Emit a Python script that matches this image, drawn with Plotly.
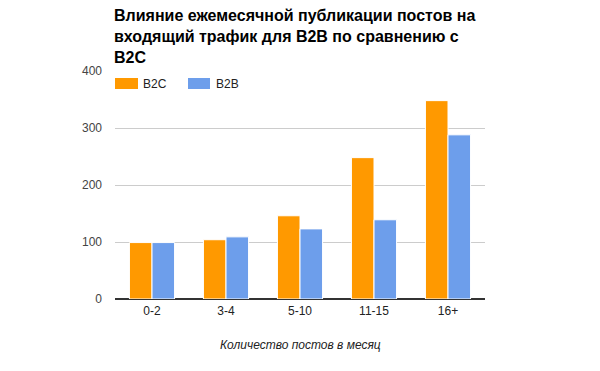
import plotly.graph_objects as go

categories = ["0-2", "3-4", "5-10", "11-15", "16+"]
b2c = [99, 104, 146, 248, 348]
b2b = [99, 109, 123, 139, 288]
series_names = ["B2C", "B2B"]
colors = ["#ff9900", "#6d9eeb"]

# page body has an 8px default margin, so figure coords = screen coords - 8
O = 8
W, H = 600, 371
L, T = 115 - O, 71 - O
pw, ph = 370, 228
R = W - L - pw
B = H - T - ph

def px(x):
    return (x - O - L) / pw

def py(y):
    return (T + ph - (y - O)) / ph

fig = go.Figure()
for name, vals, c in zip(series_names, [b2c, b2b], colors):
    fig.add_trace(go.Bar(name=name, x=categories, y=vals,
                         marker=dict(color=c, line=dict(color="white", width=1))))

font_fam = "Liberation Sans, Arial, sans-serif"

annotations = [
    dict(text="<b>Влияние ежемесячной публикации постов на<br>входящий трафик для B2B по сравнению с<br>B2C</b>",
         xref="paper", yref="paper", x=px(112), y=py(5), xanchor="left", yanchor="top", align="left",
         showarrow=False, font=dict(size=16, color="#000000", family=font_fam)),
    dict(text="<i>Количество постов в месяц</i>", xref="paper", yref="paper", x=0.5, y=py(345),
         xanchor="center", yanchor="middle", showarrow=False, font=dict(size=12, color="#222222", family=font_fam)),
]
shapes = []
leg = [(115, 138, 141), (188, 210, 214)]
for (x0, x1, tx), name, c in zip(leg, series_names, colors):
    shapes.append(dict(type="rect", xref="paper", yref="paper", x0=px(x0), x1=px(x1), y0=py(89), y1=py(78),
                       fillcolor=c, line=dict(width=0)))
    annotations.append(dict(text=name, xref="paper", yref="paper", x=px(tx), y=py(83.5), xanchor="left",
                            yanchor="middle", showarrow=False, font=dict(size=12, color="#222222", family=font_fam)))

fig.update_layout(
    width=W, height=H,
    margin=dict(l=L, r=R, t=T, b=B, autoexpand=False),
    paper_bgcolor="white", plot_bgcolor="white",
    font=dict(family=font_fam, size=12, color="#444444"),
    barmode="group", bargap=0.39, bargroupgap=0,
    showlegend=False,
    annotations=annotations, shapes=shapes,
    xaxis=dict(automargin=False, tickfont=dict(size=12, color="#222222"), showgrid=False, ticks="",
               showline=False, ticklabelstandoff=3),
    yaxis=dict(automargin=False, range=[0, 400], tickvals=[0, 100, 200, 300, 400], showgrid=True,
               gridcolor="#cccccc", zeroline=True, zerolinecolor="#333333", zerolinewidth=1.5,
               tickfont=dict(size=12, color="#444444"), ticks="", ticklabelstandoff=12),
)

fig.write_html("out.html")
